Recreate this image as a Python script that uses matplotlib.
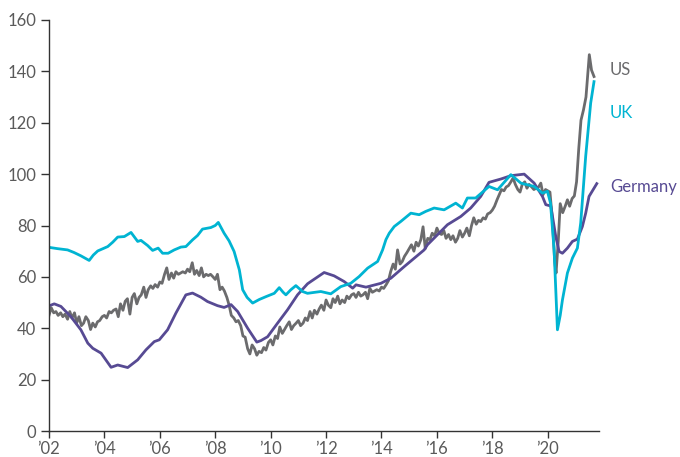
import matplotlib
matplotlib.use("Agg")
import matplotlib.pyplot as plt

# --- data (decimal years) ---
us_years = [2002.0, 2002.08, 2002.17, 2002.25, 2002.33, 2002.42, 2002.5, 2002.58, 2002.67, 2002.75, 2002.83, 2002.92,
            2003.0, 2003.08, 2003.17, 2003.25, 2003.33, 2003.42, 2003.5, 2003.58, 2003.67, 2003.75, 2003.83, 2003.92,
            2004.0, 2004.08, 2004.17, 2004.25, 2004.33, 2004.42, 2004.5, 2004.58, 2004.67, 2004.75, 2004.83, 2004.92,
            2005.0, 2005.08, 2005.17, 2005.25, 2005.33, 2005.42, 2005.5, 2005.58, 2005.67, 2005.75, 2005.83, 2005.92,
            2006.0, 2006.08, 2006.17, 2006.25, 2006.33, 2006.42, 2006.5, 2006.58, 2006.67, 2006.75, 2006.83, 2006.92,
            2007.0, 2007.08, 2007.17, 2007.25, 2007.33, 2007.42, 2007.5, 2007.58, 2007.67, 2007.75, 2007.83, 2007.92,
            2008.0, 2008.08, 2008.17, 2008.25, 2008.33, 2008.42, 2008.5, 2008.58, 2008.67, 2008.75, 2008.83, 2008.92,
            2009.0, 2009.08, 2009.17, 2009.25, 2009.33, 2009.42, 2009.5, 2009.58, 2009.67, 2009.75, 2009.83, 2009.92,
            2010.0, 2010.08, 2010.17, 2010.25, 2010.33, 2010.42, 2010.5, 2010.58, 2010.67, 2010.75, 2010.83, 2010.92,
            2011.0, 2011.08, 2011.17, 2011.25, 2011.33, 2011.42, 2011.5, 2011.58, 2011.67, 2011.75, 2011.83, 2011.92,
            2012.0, 2012.08, 2012.17, 2012.25, 2012.33, 2012.42, 2012.5, 2012.58, 2012.67, 2012.75, 2012.83, 2012.92,
            2013.0, 2013.08, 2013.17, 2013.25, 2013.33, 2013.42, 2013.5, 2013.58, 2013.67, 2013.75, 2013.83, 2013.92,
            2014.0, 2014.08, 2014.17, 2014.25, 2014.33, 2014.42, 2014.5, 2014.58, 2014.67, 2014.75, 2014.83, 2014.92,
            2015.0, 2015.08, 2015.17, 2015.25, 2015.33, 2015.42, 2015.5, 2015.58, 2015.67, 2015.75, 2015.83, 2015.92,
            2016.0, 2016.08, 2016.17, 2016.25, 2016.33, 2016.42, 2016.5, 2016.58, 2016.67, 2016.75, 2016.83, 2016.92,
            2017.0, 2017.08, 2017.17, 2017.25, 2017.33, 2017.42, 2017.5, 2017.58, 2017.67, 2017.75, 2017.83, 2017.92,
            2018.0, 2018.08, 2018.17, 2018.25, 2018.33, 2018.42, 2018.5, 2018.58, 2018.67, 2018.75, 2018.83, 2018.92,
            2019.0, 2019.08, 2019.17, 2019.25, 2019.33, 2019.42, 2019.5, 2019.58, 2019.67, 2019.75, 2019.83, 2019.92,
            2020.0, 2020.08, 2020.17, 2020.25, 2020.3, 2020.38, 2020.45, 2020.54, 2020.63, 2020.71, 2020.79, 2020.88,
            2020.96, 2021.04, 2021.12, 2021.2, 2021.29, 2021.38, 2021.46, 2021.5, 2021.58, 2021.67]
us_values = [45, 48, 46, 46.5, 45, 46, 44.5, 45.5, 43.5, 46.5, 44, 46,
             42, 44.5, 41, 42, 44.5, 43, 39.5, 42, 40.5, 42.5, 43, 44.5,
             45, 44, 46.5, 46, 47, 47.5, 44.5, 49.5, 47, 50.5, 51.5, 45.5,
             52, 53.5, 49.5, 52, 53, 56, 52, 55, 56.5, 55.5, 57, 56,
             58, 57.5, 61, 63.5, 59, 61.5, 59.5, 62, 61, 61.5, 62, 61.5,
             63, 62, 65.5, 61, 62.5, 60.5, 63.5, 60, 61, 60.5, 61, 60,
             59, 61, 55, 56, 54.5, 52, 49, 45, 44, 42.5, 43, 41,
             37, 36.5, 32, 30, 33.5, 32, 29.5, 31, 30.5, 32.5, 31.5, 34.5,
             35.5, 33.5, 37, 36, 40.5, 38, 39.5, 41, 42.5, 39.5, 41, 42,
             43, 41, 42, 44, 43, 46.5, 44, 47, 45.5, 47.5, 49, 47,
             51, 49, 48, 51.5, 50, 52.5, 49.5, 51, 50, 52.5, 51.5, 53,
             53.5, 52, 54, 52.5, 53, 54, 51.5, 55.5, 54, 54.5, 55, 54.5,
             56, 55.5, 57, 58.5, 62, 65, 63, 70.5, 65, 66, 68, 69.5,
             71, 72.5, 70, 73.5, 72, 74.5, 79.5, 71, 75, 74.5, 77, 76,
             79, 77, 76.5, 78, 75, 76.5, 74.5, 76, 73.5, 75, 78, 75.5,
             77, 79, 76, 80, 83, 80.5, 82, 81.5, 83, 82.5, 84.5, 85,
             86, 87.5, 90, 92, 94, 93.5, 95, 95.5, 97, 98.5, 96, 94,
             93, 96, 97, 94.5, 96, 95, 94, 94.5, 95, 96.5, 92, 94,
             93.5, 93, 82, 66, 61.5, 74, 88.5, 85, 87.5, 90, 87.5, 90.5,
             91.5, 97, 110, 121, 125, 130, 141, 146.5, 140.5, 138]

uk_years = [2002.0, 2002.3, 2002.67, 2002.9, 2003.15, 2003.3, 2003.45, 2003.6, 2003.76, 2004.12, 2004.3,
            2004.48, 2004.72, 2004.96, 2005.2, 2005.32, 2005.56, 2005.74, 2005.94, 2006.1, 2006.3, 2006.52,
            2006.76, 2006.94, 2007.18, 2007.36, 2007.54, 2007.84, 2008.0, 2008.11, 2008.32, 2008.5, 2008.68,
            2008.87, 2008.99, 2009.15, 2009.35, 2009.59, 2009.83, 2010.13, 2010.31, 2010.45, 2010.55, 2010.73,
            2010.91, 2011.15, 2011.33, 2011.6, 2011.81, 2012.17, 2012.53, 2012.89, 2013.19, 2013.5, 2013.86,
            2014.04, 2014.16, 2014.28, 2014.46, 2014.7, 2015.06, 2015.36, 2015.6, 2015.9, 2016.26, 2016.68,
            2016.92, 2017.1, 2017.4, 2017.88, 2018.19, 2018.67, 2019.03, 2019.51, 2019.81, 2019.99, 2020.1,
            2020.23, 2020.35, 2020.45, 2020.53, 2020.71, 2020.89, 2021.07, 2021.19, 2021.37, 2021.55, 2021.67]
uk_values = [71.5, 71, 70.5, 69.5, 68.2, 67.3, 66.4, 68.5, 70.1, 71.8, 73.5,
             75.5, 75.7, 77.3, 73.8, 74.2, 72.2, 70.3, 71.2, 69.2, 69.2, 70.5,
             71.6, 71.8, 74.4, 76.1, 78.6, 79.2, 80, 81.2, 77, 74, 69.9,
             62.7, 55, 52, 49.8, 51.2, 52.3, 53.6, 55.8, 54, 53, 55,
             56.6, 54.3, 53.6, 54, 54.3, 53.4, 56.2, 57.5, 60.1, 63.4, 66,
             70.5, 74.5, 77, 79.6, 81.6, 84.8, 84.2, 85.5, 86.8, 86.1, 88.7,
             86.8, 90.7, 90.7, 95.2, 93.9, 99.8, 96.5, 95.2, 92.6, 93.3, 88.7,
             70.5, 39.4, 45, 51, 61.5, 67.3, 71.2, 81, 107, 127.7, 136]

de_years = [2002.0, 2002.19, 2002.43, 2002.79, 2003.15, 2003.4, 2003.58, 2003.88, 2004.24, 2004.48, 2004.84,
            2005.2, 2005.5, 2005.8, 2005.98, 2006.28, 2006.58, 2006.94, 2007.18, 2007.48, 2007.72, 2008.08,
            2008.32, 2008.57, 2008.81, 2009.17, 2009.5, 2009.65, 2009.89, 2010.25, 2010.61, 2010.97, 2011.33,
            2011.45, 2011.93, 2012.29, 2012.65, 2012.96, 2013.08, 2013.44, 2013.98, 2014.34, 2014.82, 2015.54,
            2015.66, 2016.38, 2016.86, 2017.22, 2017.58, 2017.88, 2018.31, 2018.67, 2019.15, 2019.51, 2019.81,
            2019.93, 2020.11, 2020.29, 2020.41, 2020.53, 2020.71, 2020.89, 2021.07, 2021.25, 2021.37, 2021.49,
            2021.77]
de_values = [48.7, 49.5, 48.5, 44.5, 39.4, 34.2, 32.2, 30.3, 24.8, 25.7, 24.7,
             27.7, 31.6, 34.8, 35.5, 39.4, 45.9, 53, 53.7, 52.1, 50.4, 48.8,
             48.1, 49.2, 46.5, 40, 34.6, 35.2, 36.7, 42, 47.2, 53, 57.3,
             58.2, 61.7, 60.4, 58.2, 55.6, 56.9, 56, 57.5, 59.5, 64, 70.5,
             72.5, 80.3, 83.5, 86.8, 91.3, 96.8, 98.1, 99.4, 100, 96.5, 91.3,
             88.1, 87.6, 75.7, 69.9, 69.2, 71.2, 73.8, 74.7, 79.6, 84.8, 91.3,
             96.3]

x_ticks = list(range(2002, 2021, 2))
x_labels = ["\u2019" + str(y)[2:] for y in x_ticks]
y_ticks = list(range(0, 161, 20))

gray = "#6b6b6d"
cyan = "#00b4d2"
purple = "#574a93"

plt.rcParams['font.family'] = ['Lato', 'DejaVu Sans']

fig = plt.figure(figsize=(6.8, 4.57), dpi=100)
ax = fig.add_axes([49 / 680, 1 - 431 / 457, (599 - 49) / 680, (431 - 20) / 457])

ax.plot(us_years, us_values, color=gray, lw=2.0, solid_joinstyle='round')
ax.plot(de_years, de_values, color=purple, lw=2.0, solid_joinstyle='round')
ax.plot(uk_years, uk_values, color=cyan, lw=2.0, solid_joinstyle='round')

ax.set_xlim(2002, 2021.85)
ax.set_ylim(0, 160)
ax.set_xticks(x_ticks)
ax.set_xticklabels(x_labels)
ax.set_yticks(y_ticks)

for s in ['top', 'right']:
    ax.spines[s].set_visible(False)
for s in ['left', 'bottom']:
    ax.spines[s].set_color('#333333')
    ax.spines[s].set_linewidth(1.0)
ax.tick_params(axis='both', colors='#333333', labelcolor='#5a5a5a', labelsize=12, width=1.0)
ax.tick_params(axis='y', length=6, pad=3)
ax.tick_params(axis='x', length=5, pad=2)

# series labels at the right end
ax.text(2022.25, 140.7, "US", color=gray, fontsize=12, va='center', ha='left', clip_on=False)
ax.text(2022.25, 123.9, "UK", color=cyan, fontsize=12, va='center', ha='left', clip_on=False)
ax.text(2022.25, 95.1, "Germany", color=purple, fontsize=12, va='center', ha='left', clip_on=False)

fig.savefig("out.png", dpi=100)
